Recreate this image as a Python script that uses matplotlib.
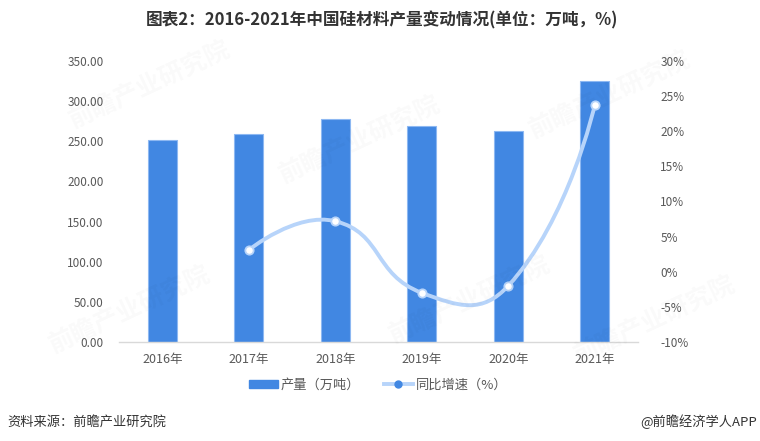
import matplotlib
matplotlib.use("Agg")
import matplotlib.pyplot as plt
import numpy as np
from matplotlib.path import Path
from matplotlib.patches import PathPatch, Patch
from matplotlib.lines import Line2D
from matplotlib.ticker import FuncFormatter, MultipleLocator

plt.rcParams['font.family'] = ['Noto Sans CJK SC', 'DejaVu Sans']

years = ["2016年", "2017年", "2018年", "2019年", "2020年", "2021年"]
output = [251.5, 259.0, 277.5, 269.5, 263.0, 325.5]          # 产量（万吨）
growth_years = [1, 2, 3, 4, 5]                                  # index of years with growth
growth = [3.1, 7.2, -3.0, -2.0, 23.7]                           # 同比增速（%）

title = "图表2：2016-2021年中国硅材料产量变动情况(单位：万吨，%)"
source = "资料来源：前瞻产业研究院"
credit = "@前瞻经济学人APP"

BAR = "#4187E2"
BAR_EDGE = "#8DB8F2"
LINE = "#B7D4FA"
TICK = "#595959"

fig = plt.figure(figsize=(7.6, 4.41), dpi=100)
ax = fig.add_axes([119/760, 1-342/441, (638-119)/760, (342-61)/441])
ax2 = ax.twinx()

x = np.arange(len(years))
ax.bar(x, output, width=0.33, color=BAR, edgecolor=BAR_EDGE, linewidth=0.8, zorder=2)
ax.set_xlim(-0.5, 5.5)
ax.set_ylim(0, 350)
ax.yaxis.set_major_locator(MultipleLocator(50))
ax.yaxis.set_major_formatter(FuncFormatter(lambda v, p: f"{v:.2f}"))
ax.set_xticks(x)
ax.set_xticklabels(years)
ax.tick_params(axis='x', length=0, pad=8, labelsize=9, labelcolor=TICK)
ax.tick_params(axis='y', length=0, pad=11, labelsize=8.5, labelcolor=TICK)
for s in ['top', 'right', 'left']:
    ax.spines[s].set_visible(False)
ax.spines['bottom'].set_color('#D9D9D9')
ax.spines['bottom'].set_linewidth(1)

ax2.set_ylim(-10, 30)
ax2.yaxis.set_major_locator(MultipleLocator(5))
ax2.yaxis.set_major_formatter(FuncFormatter(lambda v, p: f"{int(round(v))}%"))
ax2.tick_params(axis='y', length=0, pad=16, labelsize=8.5, labelcolor=TICK)
for s in ['top', 'right', 'left', 'bottom']:
    ax2.spines[s].set_visible(False)

# smooth line (echarts-like bezier) through growth points
gx = np.array(growth_years, dtype=float)
gy = np.array(growth, dtype=float)
P = ax2.transData.transform(np.column_stack([gx, gy]))
n = len(P)
smooth = 0.5
cps_before = [None]*n
cps_after = [None]*n
for i in range(n):
    if i == 0 or i == n-1:
        cps_before[i] = P[i].copy()
        cps_after[i] = P[i].copy()
        continue
    prev, nxt = P[i-1], P[i+1]
    v = nxt - prev
    d0 = np.hypot(*(P[i]-prev))
    d1 = np.hypot(*(nxt-P[i]))
    r = d1/(d0+d1)
    cps_before[i] = P[i] - v*smooth*(1-r)
    cps_after[i] = P[i] + v*smooth*r
verts = [P[0]]
codes = [Path.MOVETO]
for i in range(n-1):
    verts += [cps_after[i], cps_before[i+1], P[i+1]]
    codes += [Path.CURVE4]*3
verts = ax2.transData.inverted().transform(np.array(verts))
ax2.add_patch(PathPatch(Path(verts, codes), fill=False, edgecolor=LINE, linewidth=2.8,
                        capstyle='round', zorder=3))
ax2.plot(gx, gy, linestyle='none', marker='o', markersize=6, markerfacecolor='white',
         markeredgecolor=LINE, markeredgewidth=1.3, zorder=4)

# watermarks
wm = [(150, 85), (610, 95), (360, 140), (130, 310), (470, 300), (655, 320)]
for (px, py) in wm:
    fig.text(px/760, 1-py/441, "前瞻产业研究院", fontsize=18, fontweight='bold',
             color='#000000', alpha=0.025, rotation=25, ha='center', va='center', zorder=10)

fig.text(382/760, 1-20/441, title, fontsize=12, fontweight='bold', color='#333333',
         ha='center', va='center')

handles = [Patch(facecolor=BAR, edgecolor=BAR),
           Line2D([0], [0], color=LINE, linewidth=2.8, marker='o', markersize=5,
                  markerfacecolor=BAR, markeredgecolor=BAR)]
fig.legend(handles, ["产量（万吨）", "同比增速（%）"], loc='center',
           bbox_to_anchor=(378/760, 1-385/441), ncol=2, frameon=False, fontsize=9.5,
           handlelength=2.2, handleheight=0.6, handletextpad=0.2, columnspacing=1.8,
           labelcolor=TICK)

fig.text(7/760, 1-422/441, source, fontsize=9.5, color='#333333', ha='left', va='center')
fig.text(757/760, 1-422/441, credit, fontsize=9.5, color='#333333', ha='right', va='center')

fig.savefig("out.png", dpi=100)
